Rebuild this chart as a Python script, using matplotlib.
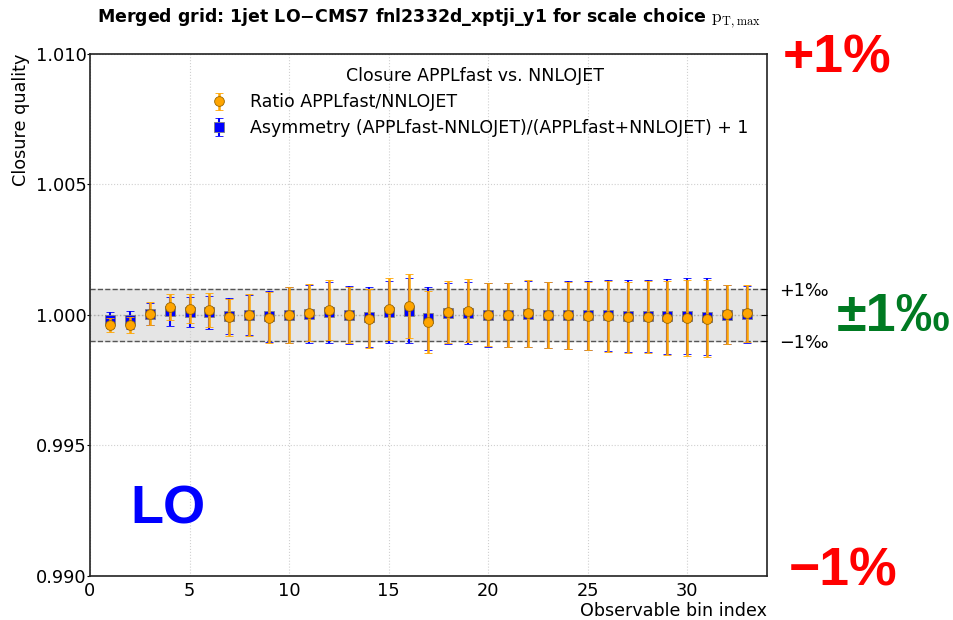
import numpy as np
import matplotlib
matplotlib.use("Agg")
import matplotlib.pyplot as plt

plt.rcParams['mathtext.fontset'] = 'cm'

# observable bins
bins = np.arange(1, 34)

# ratio APPLfast/NNLOJET (orange circles) and errors
ratio = [0.99962, 0.99962, 1.00004, 1.00029, 1.00024, 1.00019, 0.99991, 1.00000,
         0.99989, 1.00000, 1.00009, 1.00019, 1.00000, 0.99986, 1.00022, 1.00034,
         0.99974, 1.00012, 1.00017, 1.00001, 1.00000, 1.00006, 1.00000, 0.99999,
         0.99996, 0.99995, 0.99991, 0.99991, 0.99989, 0.99989, 0.99986, 1.00002,
         1.00006]
ratio_err = [0.00027, 0.00032, 0.00044, 0.00050, 0.00056, 0.00064, 0.00070, 0.00079,
             0.00098, 0.00106, 0.00109, 0.00115, 0.00109, 0.00114, 0.00118, 0.00124,
             0.00118, 0.00118, 0.00120, 0.00120, 0.00123, 0.00127, 0.00127, 0.00128,
             0.00131, 0.00135, 0.00136, 0.00138, 0.00142, 0.00145, 0.00147, 0.00113,
             0.00109]

# asymmetry (APPLfast-NNLOJET)/(APPLfast+NNLOJET) + 1 (blue squares)
asym = [0.99981, 0.99981, 1.00002, 1.00014, 1.00012, 1.00010, 0.99996, 1.00000,
        0.99995, 1.00000, 1.00004, 1.00010, 1.00000, 0.99993, 1.00011, 1.00017,
        0.99987, 1.00006, 1.00008, 1.00000, 1.00000, 1.00003, 1.00000, 1.00000,
        0.99998, 0.99998, 0.99996, 0.99996, 0.99995, 0.99995, 0.99993, 1.00001,
        1.00003]
asym_err = [0.00032, 0.00034, 0.00042, 0.00056, 0.00058, 0.00064, 0.00068, 0.00077,
            0.00098, 0.00106, 0.00110, 0.00116, 0.00110, 0.00115, 0.00118, 0.00126,
            0.00120, 0.00118, 0.00120, 0.00121, 0.00124, 0.00127, 0.00128, 0.00129,
            0.00132, 0.00135, 0.00137, 0.00139, 0.00143, 0.00146, 0.00148, 0.00113,
            0.00109]

fig = plt.figure(figsize=(9.54, 6.2), dpi=100)
ax = fig.add_axes([0.0943, 0.071, 0.7097, 0.842])

ax.set_xlim(0, 34)
ax.set_ylim(0.990, 1.010)

# permille band
ax.axhspan(0.999, 1.001, color='#e5e5e5', zorder=0)
ax.axhline(1.001, color='#555555', ls='--', lw=1, zorder=1)
ax.axhline(0.999, color='#555555', ls='--', lw=1, zorder=1)
ax.axhline(1.000, color='#aaaaaa', ls=':', lw=1, zorder=1)

ax.grid(True, color='#d0d0d0', ls=':', lw=0.8)
ax.set_axisbelow(True)

h_asym = ax.errorbar(bins, asym, yerr=asym_err, fmt='s', color='blue', ms=7,
                     mec='gray', mew=0.6, ecolor='blue', elinewidth=1.5,
                     capsize=3, capthick=0.8, zorder=3)
h_ratio = ax.errorbar(bins, ratio, yerr=ratio_err, fmt='o', color='orange', ms=7,
                      mec='#996600', mew=0.6, ecolor='orange', elinewidth=1.8,
                      capsize=3, capthick=0.8, zorder=4)

ax.set_yticks([0.990, 0.995, 1.000, 1.005, 1.010])
ax.set_yticklabels(['0.990', '0.995', '1.000', '1.005', '1.010'])
ax.set_xticks([0, 5, 10, 15, 20, 25, 30])
ax.tick_params(axis='both', labelsize=12.8)
ax.tick_params(axis='y', direction='out', length=2, pad=0.5)
ax.tick_params(axis='x', direction='in', length=0, pad=4)
for s in ax.spines.values():
    s.set_linewidth(1.2)
    s.set_color('#222222')

ax.set_xlabel('Observable bin index', fontsize=12.6, loc='right', labelpad=2)
ax.set_ylabel('Closure quality', fontsize=12.7, loc='top', labelpad=4)

leg = ax.legend([h_ratio, h_asym],
                ['Ratio APPLfast/NNLOJET',
                 'Asymmetry (APPLfast-NNLOJET)/(APPLfast+NNLOJET) + 1'],
                title='Closure APPLfast vs. NNLOJET', loc='upper left',
                bbox_to_anchor=(0.142, 1.004), frameon=False, fontsize=12.5,
                title_fontsize=12.5, numpoints=1, handletextpad=0.8,
                labelspacing=0.45)

ax.text(3.9, 0.99253, 'LO', color='blue', fontsize=39, fontweight='bold',
        family='Liberation Sans', ha='center', va='center')

# right-hand permille ticks
ax2 = ax.twinx()
ax2.set_ylim(0.990, 1.010)
ax2.set_yticks([0.999, 1.000, 1.001])
ax2.set_yticklabels(['\u22121\u2030', '', '+1\u2030'])
ax2.tick_params(axis='y', direction='in', length=4, labelsize=12.7, pad=9)
for s in ax2.spines.values():
    s.set_visible(False)

fig.text(0.8205, 0.906, '+1%', color='red', fontsize=38.5, fontweight='bold',
         family='Liberation Sans', ha='left', va='center')
fig.text(0.827, 0.078, '\u22121%', color='red', fontsize=38.5, fontweight='bold',
         family='Liberation Sans', ha='left', va='center')
fig.text(0.877, 0.489, '\u00b11\u2030', color='#007a22', fontsize=39,
         fontweight='bold', family='Liberation Sans', ha='left', va='center')

fig.text(0.449, 0.970,
         'Merged grid: 1jet LO\u2212CMS7 fnl2332d_xptji_y1 for scale choice $\\mathrm{p_{T,max}}$',
         fontsize=12.5, fontweight='bold', ha='center', va='center')

fig.savefig('out.png', dpi=100)
